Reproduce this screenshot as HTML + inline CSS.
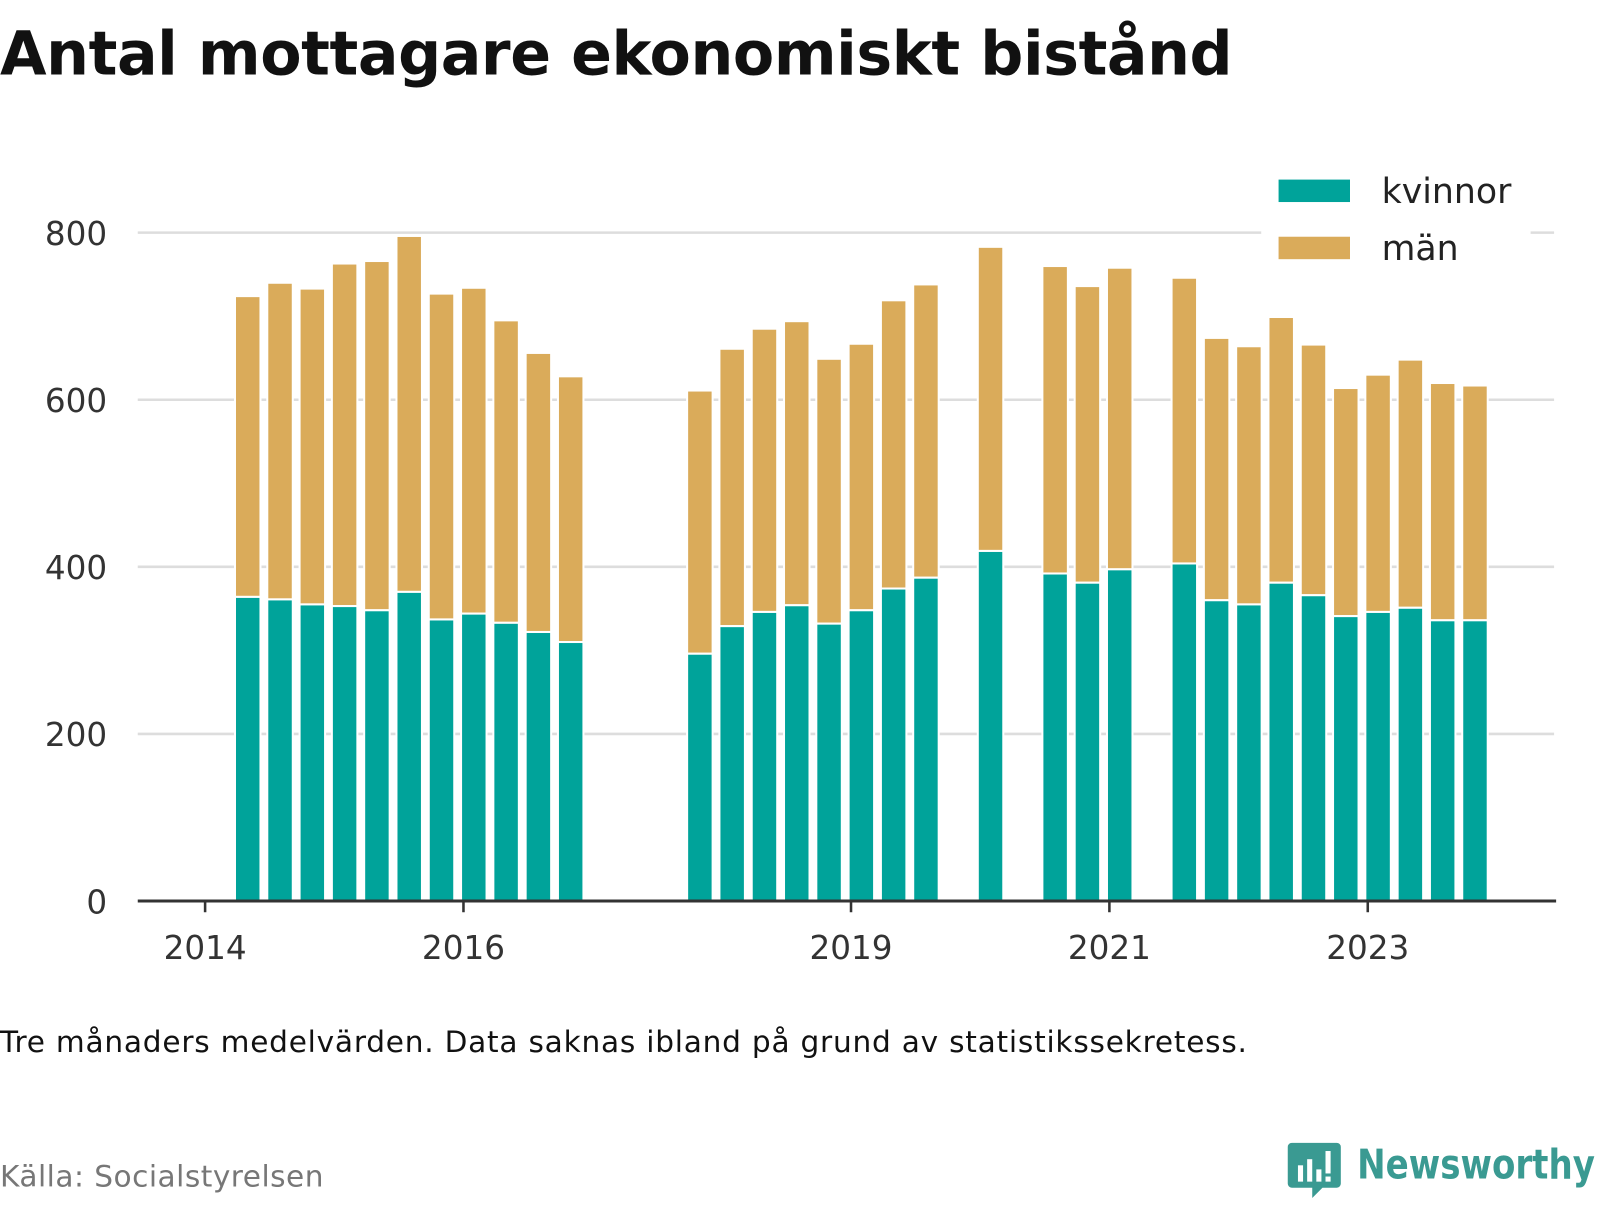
<!DOCTYPE html>
<html><head><meta charset="utf-8"><style>
body{margin:0;width:1600px;height:1200px;background:#fff;overflow:hidden;font-family:"Liberation Sans","DejaVu Sans",sans-serif}
</style></head><body>
<svg id="chart" width="1600" height="1200" viewBox="0 0 1568 1176" xmlns="http://www.w3.org/2000/svg">
<text x="0" y="73" font-size="59" font-weight="bold" fill="#111" font-family="DejaVu Sans, sans-serif" textLength="1208">Antal mottagare ekonomiskt bistånd</text>
<g id="grid"></g><g id="bars"></g><g id="axes"></g>
<g>
<rect x="1236" y="160" width="264" height="110" fill="#fff"/>
<rect x="1253" y="176" width="70" height="22" fill="#00a39a"/>
<text x="1354" y="199" font-size="34" fill="#222" font-family="DejaVu Sans, sans-serif">kvinnor</text>
<rect x="1253" y="232" width="70" height="22" fill="#daab5a"/>
<text x="1354" y="255" font-size="34" fill="#222" font-family="DejaVu Sans, sans-serif">män</text>
</g>
<text x="0" y="1031" font-size="29" fill="#111" font-family="DejaVu Sans, sans-serif" textLength="1222">Tre månaders medelvärden. Data saknas ibland på grund av statistikssekretess.</text>
<text x="0" y="1163" font-size="29" fill="#777" font-family="DejaVu Sans, sans-serif" textLength="317">Källa: Socialstyrelsen</text>
<g>
<path d="M1266 1120 h44 a4 4 0 0 1 4 4 v36 a4 4 0 0 1 -4 4 h-14 l-10 10 v-10 h-20 a4 4 0 0 1 -4 -4 v-36 a4 4 0 0 1 4 -4z" fill="#3a9a92"/>
<rect x="1272" y="1142" width="5" height="16" fill="#fff"/><rect x="1281" y="1136" width="5" height="22" fill="#fff"/><rect x="1290" y="1146" width="5" height="12" fill="#fff"/><rect x="1299" y="1128" width="5" height="22" fill="#fff"/><rect x="1299" y="1153" width="5" height="5" fill="#fff"/>
<text x="1330" y="1155" font-size="40" font-weight="bold" fill="#3a9a92" font-family="DejaVu Sans, sans-serif" textLength="233" lengthAdjust="spacingAndGlyphs">Newsworthy</text>
</g>
</svg>
<script>
const idx=[0,1,2,3,4,5,6,7,8,9,10,14,15,16,17,18,19,20,21,23,25,26,27,29,30,31,32,33,34,35,36,37,38];
const kvinnor=[364,361,355,353,348,370,337,344,333,322,310,296,329,346,354,332,348,374,387,419,392,381,397,404,360,355,381,366,341,346,351,336,336];
const totals=[724,740,733,763,766,796,727,734,695,656,628,611,661,685,694,649,667,719,738,783,760,736,758,746,674,664,699,666,614,630,648,620,617];
const yTicks=[0,200,400,600,800];
const xTicks=[2014,2016,2019,2021,2023];
const NS="http://www.w3.org/2000/svg";
const y=v=>883-v*0.8188;
const xYear=t=>201+(t-2014)*126.6;
const xBar=i=>xYear(2014.33+i*0.25);
function mk(tag,attrs,parent){const e=document.createElementNS(NS,tag);for(const k in attrs)e.setAttribute(k,attrs[k]);parent.appendChild(e);return e;}
const grid=document.getElementById('grid'),bars=document.getElementById('bars'),axes=document.getElementById('axes');
yTicks.forEach(v=>{
 if(v>0){const l=mk('line',{x1:135,x2:1523,y1:y(v),y2:y(v),stroke:'#ddd','stroke-width':2.5},grid);
 
 }
 const t=mk('text',{x:105,y:y(v)+12,'text-anchor':'end','font-size':32,fill:'#333','font-family':'DejaVu Sans, sans-serif'},axes);
 t.textContent=v;
 
 
});
idx.forEach((q,k)=>{
 const cx=xBar(q),w=25;
 const r1=mk('rect',{x:cx-w/2,y:y(totals[k]),width:w,height:y(kvinnor[k])-y(totals[k]),fill:'#daab5a',stroke:'#fff','stroke-width':2},bars);
 
 
 const r2=mk('rect',{x:cx-w/2,y:y(kvinnor[k]),width:w,height:y(0)-y(kvinnor[k]),fill:'#00a39a',stroke:'#fff','stroke-width':2},bars);
 
 
});
const ax=mk('line',{x1:135,x2:1525,y1:883,y2:883,stroke:'#333','stroke-width':3},axes);


xTicks.forEach(t=>{
 const x=xYear(t);
 const tk=mk('line',{x1:x,x2:x,y1:883,y2:894,stroke:'#333','stroke-width':2.5},axes);
 
 
 const tx=mk('text',{x:x,y:940,'text-anchor':'middle','font-size':32,fill:'#333','font-family':'DejaVu Sans, sans-serif'},axes);
 tx.textContent=t;
 
 
});
</script>
</body></html>
